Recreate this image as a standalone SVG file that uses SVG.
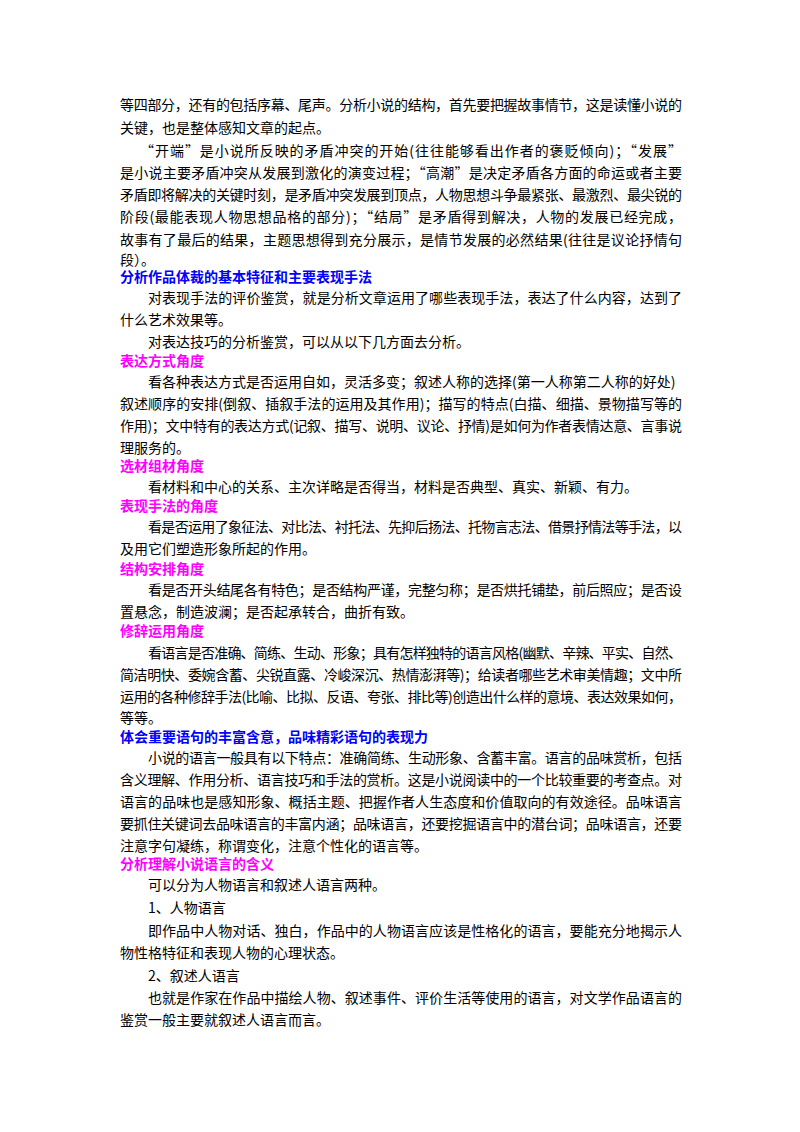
<svg xmlns="http://www.w3.org/2000/svg" width="800" height="1132" viewBox="0 0 800 1132">
<style>
text{font-family:"Noto Sans CJK SC","Liberation Serif",serif;font-size:14px;fill:#000}
.b{fill:#0000ff;font-weight:bold}
.m{fill:#ff00ff;font-weight:bold}
</style>
<rect width="800" height="1132" fill="#fff"/>
<text x="120" y="110" textLength="562" lengthAdjust="spacing">等四部分，还有的包括序幕、尾声。分析小说的结构，首先要把握故事情节，这是读懂小说的</text>
<text x="120" y="133">关键，也是整体感知文章的起点。</text>
<text x="140" y="156" textLength="542" lengthAdjust="spacing">“开端”是小说所反映的矛盾冲突的开始(往往能够看出作者的褒贬倾向)；“发展”</text>
<text x="120" y="178" textLength="562" lengthAdjust="spacing">是小说主要矛盾冲突从发展到激化的演变过程；“高潮”是决定矛盾各方面的命运或者主要</text>
<text x="120" y="200" textLength="562" lengthAdjust="spacing">矛盾即将解决的关键时刻，是矛盾冲突发展到顶点，人物思想斗争最紧张、最激烈、最尖锐的</text>
<text x="120" y="222" textLength="562" lengthAdjust="spacing">阶段(最能表现人物思想品格的部分)；“结局”是矛盾得到解决，人物的发展已经完成，</text>
<text x="120" y="245" textLength="562" lengthAdjust="spacing">故事有了最后的结果，主题思想得到充分展示，是情节发展的必然结果(往往是议论抒情句</text>
<text x="120" y="265">段）。</text>
<text x="120" y="282" class="b">分析作品体裁的基本特征和主要表现手法</text>
<text x="148" y="303" textLength="534" lengthAdjust="spacing">对表现手法的评价鉴赏，就是分析文章运用了哪些表现手法，表达了什么内容，达到了</text>
<text x="120" y="325">什么艺术效果等。</text>
<text x="148" y="347">对表达技巧的分析鉴赏，可以从以下几方面去分析。</text>
<text x="120" y="366" class="m">表达方式角度</text>
<text x="148" y="387">看各种表达方式是否运用自如，灵活多变；叙述人称的选择(第一人称第二人称的好处)</text>
<text x="120" y="409" textLength="562" lengthAdjust="spacing">叙述顺序的安排(倒叙、插叙手法的运用及其作用)；描写的特点(白描、细描、景物描写等的</text>
<text x="120" y="431" textLength="562" lengthAdjust="spacing">作用)；文中特有的表达方式(记叙、描写、说明、议论、抒情)是如何为作者表情达意、言事说</text>
<text x="120" y="453">理服务的。</text>
<text x="120" y="471" class="m">选材组材角度</text>
<text x="148" y="492">看材料和中心的关系、主次详略是否得当，材料是否典型、真实、新颖、有力。</text>
<text x="120" y="511" class="m">表现手法的角度</text>
<text x="148" y="532" textLength="534" lengthAdjust="spacing">看是否运用了象征法、对比法、衬托法、先抑后扬法、托物言志法、借景抒情法等手法，以</text>
<text x="120" y="554">及用它们塑造形象所起的作用。</text>
<text x="120" y="574" class="m">结构安排角度</text>
<text x="148" y="595" textLength="534" lengthAdjust="spacing">看是否开头结尾各有特色；是否结构严谨，完整匀称；是否烘托铺垫，前后照应；是否设</text>
<text x="120" y="617">置悬念，制造波澜；是否起承转合，曲折有致。</text>
<text x="120" y="636" class="m">修辞运用角度</text>
<text x="148" y="658" textLength="534" lengthAdjust="spacing">看语言是否准确、简练、生动、形象；具有怎样独特的语言风格(幽默、辛辣、平实、自然、</text>
<text x="120" y="680" textLength="562" lengthAdjust="spacing">简洁明快、委婉含蓄、尖锐直露、冷峻深沉、热情澎湃等)；给读者哪些艺术审美情趣；文中所</text>
<text x="120" y="702" textLength="562" lengthAdjust="spacing">运用的各种修辞手法(比喻、比拟、反语、夸张、排比等)创造出什么样的意境、表达效果如何，</text>
<text x="120" y="723">等等。</text>
<text x="120" y="742" class="b">体会重要语句的丰富含意，品味精彩语句的表现力</text>
<text x="148" y="763" textLength="534" lengthAdjust="spacing">小说的语言一般具有以下特点：准确简练、生动形象、含蓄丰富。语言的品味赏析，包括</text>
<text x="120" y="785" textLength="562" lengthAdjust="spacing">含义理解、作用分析、语言技巧和手法的赏析。这是小说阅读中的一个比较重要的考查点。对</text>
<text x="120" y="807" textLength="562" lengthAdjust="spacing">语言的品味也是感知形象、概括主题、把握作者人生态度和价值取向的有效途径。品味语言</text>
<text x="120" y="829" textLength="562" lengthAdjust="spacing">要抓住关键词去品味语言的丰富内涵；品味语言，还要挖掘语言中的潜台词；品味语言，还要</text>
<text x="120" y="851">注意字句凝练，称谓变化，注意个性化的语言等。</text>
<text x="120" y="869" class="m">分析理解小说语言的含义</text>
<text x="148" y="890">可以分为人物语言和叙述人语言两种。</text>
<text x="148" y="913">1、人物语言</text>
<text x="148" y="936" textLength="534" lengthAdjust="spacing">即作品中人物对话、独白，作品中的人物语言应该是性格化的语言，要能充分地揭示人</text>
<text x="120" y="958">物性格特征和表现人物的心理状态。</text>
<text x="148" y="981">2、叙述人语言</text>
<text x="148" y="1003" textLength="534" lengthAdjust="spacing">也就是作家在作品中描绘人物、叙述事件、评价生活等使用的语言，对文学作品语言的</text>
<text x="120" y="1025">鉴赏一般主要就叙述人语言而言。</text>
</svg>
